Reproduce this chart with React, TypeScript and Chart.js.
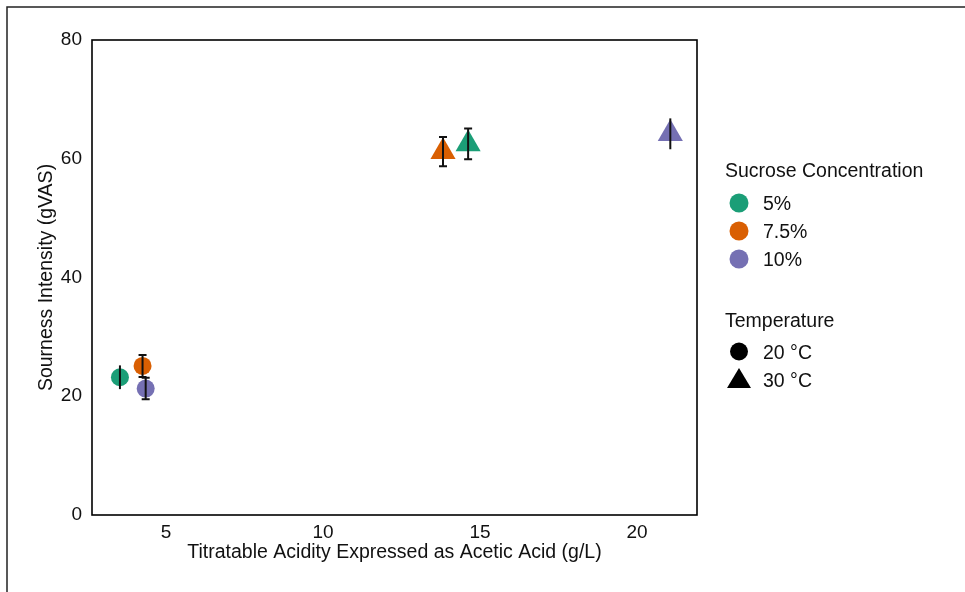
import React, { useEffect, useRef } from "react";
import { Chart, registerables } from "chart.js";

Chart.register(...registerables);

// ---- data ----
const sucroseLevels = ["5%", "7.5%", "10%"];
const temperatures = ["20 °C", "30 °C"];
const acidity20 = [3.53, 4.25, 4.35];
const sourness20 = [23.2, 25.1, 21.3];
const error20 = [2.0, 1.85, 1.8];
const acidity30 = [14.62, 13.82, 21.06];
const sourness30 = [62.5, 61.2, 64.2];
const error30 = [2.6, 2.45, 2.6];
const xTicks = [5, 10, 15, 20];
const yTicks = [0, 20, 40, 60, 80];

// ---- style ----
const sucroseColors = ["#1b9e77", "#d95f02", "#7570b3"];
const caps20 = [false, true, true];
const caps30 = [true, true, false];
const FONT = "'Liberation Sans', Arial, Helvetica, sans-serif";
const TEXT = "#111";

const errorBarPlugin = {
  id: "errorBars",
  afterDatasetsDraw(chart: any) {
    const ctx = chart.ctx;
    const ys = chart.scales.y;
    chart.data.datasets.forEach((ds: any, di: number) => {
      const meta = chart.getDatasetMeta(di);
      meta.data.forEach((pt: any, i: number) => {
        const d = ds.data[i];
        const e = ds.errors[i];
        const yTop = ys.getPixelForValue(d.y + e);
        const yBot = ys.getPixelForValue(d.y - e);
        ctx.save();
        ctx.strokeStyle = "#111";
        ctx.lineWidth = 2;
        ctx.beginPath();
        ctx.moveTo(pt.x, yTop);
        ctx.lineTo(pt.x, yBot);
        if (ds.caps[i]) {
          ctx.moveTo(pt.x - 4, yTop);
          ctx.lineTo(pt.x + 4, yTop);
          ctx.moveTo(pt.x - 4, yBot);
          ctx.lineTo(pt.x + 4, yBot);
        }
        ctx.stroke();
        ctx.restore();
      });
    });
  },
};

const framePlugin = {
  id: "frames",
  afterDraw(chart: any) {
    const ctx = chart.ctx;
    const a = chart.chartArea;
    ctx.save();
    ctx.strokeStyle = "#000";
    ctx.lineWidth = 1.6;
    ctx.strokeRect(a.left, a.top, a.right - a.left, a.bottom - a.top);
    ctx.strokeStyle = "#222";
    ctx.lineWidth = 1.5;
    ctx.beginPath();
    ctx.moveTo(7, chart.height);
    ctx.lineTo(7, 7);
    ctx.lineTo(chart.width, 7);
    ctx.stroke();
    ctx.restore();
  },
};

const legendPlugin = {
  id: "customLegend",
  afterDraw(chart: any) {
    const ctx = chart.ctx;
    const x0 = chart.chartArea.right + 28;
    ctx.save();
    ctx.fillStyle = TEXT;
    ctx.font = `19.5px ${FONT}`;
    ctx.textAlign = "left";
    ctx.textBaseline = "alphabetic";
    ctx.fillText("Sucrose Concentration", x0, 177);
    sucroseLevels.forEach((lab, i) => {
      const cy = 203 + i * 28;
      ctx.fillStyle = sucroseColors[i];
      ctx.beginPath();
      ctx.arc(x0 + 14, cy, 9.5, 0, Math.PI * 2);
      ctx.fill();
      ctx.fillStyle = TEXT;
      ctx.fillText(lab, x0 + 38, cy + 7);
    });
    ctx.fillText("Temperature", x0, 327);
    const c1 = 351.5;
    ctx.fillStyle = "#000";
    ctx.beginPath();
    ctx.arc(x0 + 14, c1, 9, 0, Math.PI * 2);
    ctx.fill();
    ctx.fillStyle = TEXT;
    ctx.fillText(temperatures[0], x0 + 38, c1 + 7);
    const c2 = 380;
    ctx.fillStyle = "#000";
    ctx.beginPath();
    ctx.moveTo(x0 + 14, c2 - 12);
    ctx.lineTo(x0 + 14 + 12, c2 + 8);
    ctx.lineTo(x0 + 14 - 12, c2 + 8);
    ctx.closePath();
    ctx.fill();
    ctx.fillStyle = TEXT;
    ctx.fillText(temperatures[1], x0 + 38, c2 + 7);
    ctx.restore();
  },
};

export default function App() {
  const ref = useRef<HTMLCanvasElement | null>(null);

  useEffect(() => {
    if (!ref.current) return;
    Chart.defaults.font.family = FONT;
    const chart = new Chart(ref.current, {
      type: "scatter",
      data: {
        datasets: [
          {
            label: temperatures[0],
            data: acidity20.map((x, i) => ({ x, y: sourness20[i] })),
            errors: error20,
            caps: caps20,
            backgroundColor: sucroseColors,
            borderWidth: 0,
            pointStyle: "circle",
            pointRadius: 9,
            pointHoverRadius: 9,
          } as any,
          {
            label: temperatures[1],
            data: acidity30.map((x, i) => ({ x, y: sourness30[i] })),
            errors: error30,
            caps: caps30,
            backgroundColor: sucroseColors,
            borderWidth: 0,
            pointStyle: "triangle",
            pointRadius: 14.5,
            pointHoverRadius: 14.5,
          } as any,
        ],
      },
      options: {
        animation: false,
        responsive: false,
        events: [],
        layout: { padding: { left: 0, top: 40, right: 268, bottom: 0 } },
        plugins: {
          legend: { display: false },
          tooltip: { enabled: false },
        },
        scales: {
          x: {
            type: "linear",
            min: 2.64,
            max: 21.91,
            afterBuildTicks: (s: any) => {
              s.ticks = xTicks.map((v) => ({ value: v }));
            },
            afterFit: (s: any) => {
              s.height = 77;
            },
            grid: { display: false, drawTicks: false },
            border: { display: false },
            ticks: {
              color: TEXT,
              font: { size: 19 },
              padding: 6,
              maxRotation: 0,
            },
            title: {
              display: true,
              text: "Titratable Acidity Expressed as Acetic Acid (g/L)",
              color: TEXT,
              font: { size: 19.5 },
              padding: { top: 0, bottom: 28 },
            },
          },
          y: {
            type: "linear",
            min: 0,
            max: 80,
            afterBuildTicks: (s: any) => {
              s.ticks = yTicks.map((v) => ({ value: v }));
            },
            afterFit: (s: any) => {
              s.width = 92;
            },
            grid: { display: false, drawTicks: false },
            border: { display: false },
            ticks: {
              color: TEXT,
              font: { size: 19 },
              padding: 10,
            },
            title: {
              display: true,
              text: "Sourness Intensity (gVAS)",
              color: TEXT,
              font: { size: 19.5 },
              padding: { top: 35, bottom: 0 },
            },
          },
        },
      },
      plugins: [errorBarPlugin, framePlugin, legendPlugin],
    } as any);
    return () => chart.destroy();
  }, []);

  return (
    <div
      style={{
        position: "fixed",
        left: 0,
        top: 0,
        width: 965,
        height: 592,
        background: "#fff",
      }}
    >
      <canvas ref={ref} width={965} height={592} style={{ display: "block" }} />
    </div>
  );
}
